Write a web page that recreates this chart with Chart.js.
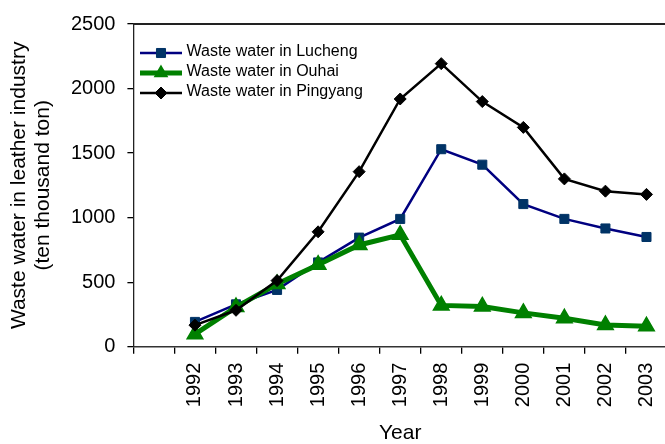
<!DOCTYPE html>
<html>
<head>
<meta charset="utf-8">
<script src="https://cdn.jsdelivr.net/npm/chart.js@4.4.1/dist/chart.umd.min.js"></script>
<style>
  html, body { margin: 0; padding: 0; background: #fff; overflow: hidden; }
  #wrap { width: 670px; height: 444px; }
</style>
</head>
<body>
<div id="wrap"><canvas id="c" width="670" height="444"></canvas></div>
<script>
// ---- data ----
const years = ['1992','1993','1994','1995','1996','1997','1998','1999','2000','2001','2002','2003'];
const lucheng  = [192, 328, 440, 653, 845, 990, 1530, 1410, 1105, 990, 916, 850];
const ouhai    = [97, 307, 486, 635, 788, 867, 320, 312, 262, 220, 168, 158];
const pingyang = [167, 282, 512, 890, 1356, 1919, 2193, 1899, 1699, 1300, 1205, 1180];
const seriesNames = ['Waste water in Lucheng', 'Waste water in Ouhai', 'Waste water in Pingyang'];
const yTicks = [0, 500, 1000, 1500, 2000, 2500];

// an empty leading category, as in the reference
const labels = [''].concat(years);
const pad = arr => [null].concat(arr);

const FONT = '"Liberation Sans", Arial, sans-serif';

const legendPlugin = {
  id: 'insideLegend',
  afterDraw(chart) {
    const ctx = chart.ctx;
    const a = chart.chartArea;
    const x0 = a.left + 6.6, lineW = 42;
    chart.data.datasets.forEach((ds, i) => {
      const y = a.top + 29 + i * 20;
      ctx.save();
      ctx.strokeStyle = ds.borderColor;
      ctx.lineWidth = ds.borderWidth;
      ctx.beginPath();
      ctx.moveTo(x0, y);
      ctx.lineTo(x0 + lineW, y);
      ctx.stroke();
      ctx.fillStyle = ds.pointBackgroundColor;
      ctx.strokeStyle = ds.pointBorderColor;
      ctx.lineWidth = ds.pointBorderWidth;
      Chart.helpers.drawPoint(ctx, {
        pointStyle: ds.pointStyle, radius: ds.legendRadius, rotation: 0,
        borderWidth: ds.pointBorderWidth
      }, x0 + lineW / 2, y);
      ctx.fillStyle = '#000';
      ctx.font = '16px ' + FONT;
      ctx.textBaseline = 'middle';
      ctx.textAlign = 'left';
      ctx.fillText(ds.label, x0 + lineW + 4.5, y - 1);
      ctx.restore();
    });
  }
};

const framePlugin = {
  id: 'frame',
  beforeDatasetsDraw(chart) {
    const ctx = chart.ctx, a = chart.chartArea;
    ctx.save();
    ctx.strokeStyle = '#222';
    ctx.lineWidth = 2;
    ctx.beginPath();
    ctx.moveTo(a.left, a.top);
    ctx.lineTo(a.right, a.top);
    ctx.lineTo(a.right, a.bottom);
    ctx.stroke();
    ctx.restore();
  }
};

new Chart(document.getElementById('c'), {
  type: 'line',
  data: {
    labels: labels,
    datasets: [
      {
        label: seriesNames[0], data: pad(lucheng), order: 3,
        borderColor: '#000080', borderWidth: 2.5,
        pointStyle: 'rect', pointRadius: 6.4, legendRadius: 6.4,
        pointBackgroundColor: '#003366', pointBorderColor: '#003366', pointBorderWidth: 1,
        tension: 0, fill: false
      },
      {
        label: seriesNames[1], data: pad(ouhai), order: 2,
        borderColor: '#008000', borderWidth: 5,
        pointStyle: 'triangle', pointRadius: 9, legendRadius: 7,
        pointBackgroundColor: '#008000', pointBorderColor: '#008000', pointBorderWidth: 1.5,
        tension: 0, fill: false
      },
      {
        label: seriesNames[2], data: pad(pingyang), order: 1,
        borderColor: '#000000', borderWidth: 2.5,
        pointStyle: 'rectRot', pointRadius: 6, legendRadius: 6,
        pointBackgroundColor: '#000000', pointBorderColor: '#000000', pointBorderWidth: 1,
        tension: 0, fill: false
      }
    ]
  },
  options: {
    responsive: false,
    animation: false,
    devicePixelRatio: 1,
    layout: { autoPadding: false, padding: { left: 0, right: 3, top: 21, bottom: 0 } },
    plugins: { legend: { display: false }, tooltip: { enabled: false } },
    elements: { point: { hoverRadius: 6 } },
    scales: {
      x: {
        type: 'category',
        offset: true,
        afterFit(scale) { scale.height = 97.3; scale.paddingLeft = 0; scale.paddingRight = 0; },
        grid: { offset: true, drawOnChartArea: false, drawTicks: true, tickLength: 7, color: '#000', lineWidth: 1.3 },
        border: { display: true, color: '#333', width: 1.5 },
        ticks: {
          autoSkip: false, maxRotation: 90, minRotation: 90, padding: 9,
          color: '#000', font: { family: FONT, size: 20 }
        },
        title: {
          display: true, text: 'Year', color: '#000',
          font: { family: FONT, size: 21, lineHeight: 1 }, padding: { top: 0, bottom: 0 }
        }
      },
      y: {
        min: 0, max: 2500,
        afterFit(scale) { scale.width = 133.4; },
        afterBuildTicks(scale) { scale.ticks = yTicks.map(v => ({ value: v })); },
        grid: { drawOnChartArea: false, drawTicks: true, tickLength: 6, color: '#000', lineWidth: 1.3 },
        border: { display: true, color: '#222', width: 1.3 },
        ticks: {
          padding: 12, color: '#000', font: { family: FONT, size: 20 },
          callback: v => String(v)
        },
        title: {
          display: true,
          text: ['Waste water in leather industry', '(ten thousand ton)'],
          color: '#000',
          font: { family: FONT, size: 21, lineHeight: 1.14 },
          padding: { top: 7, bottom: 0 }
        }
      }
    }
  },
  plugins: [framePlugin, legendPlugin]
});
</script>
</body>
</html>
